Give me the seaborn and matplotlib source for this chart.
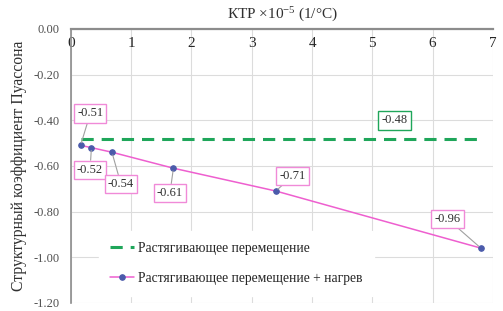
import numpy as np
import pandas as pd
import matplotlib
matplotlib.use("Agg")
import matplotlib.pyplot as plt
import seaborn as sns

# Data
ktr = [0.16, 0.34, 0.68, 1.70, 3.40, 6.80]
heat_vals = [-0.51, -0.52, -0.54, -0.61, -0.71, -0.96]
base_x = [0.16, 6.80]
base_vals = [-0.48, -0.48]
label_base = "Растягивающее перемещение"
label_heat = "Растягивающее перемещение + нагрев"
xticks = [0, 1, 2, 3, 4, 5, 6, 7]
yticks = [0.0, -0.2, -0.4, -0.6, -0.8, -1.0, -1.2]

sns.set_theme(style="white")
plt.rcParams['font.family'] = ['Liberation Serif', 'DejaVu Serif']
plt.rcParams['mathtext.fontset'] = 'custom'
plt.rcParams['mathtext.rm'] = 'Liberation Serif'
plt.rcParams['mathtext.it'] = 'Liberation Serif:italic'

df_heat = pd.DataFrame({"x": ktr, "y": heat_vals})
df_base = pd.DataFrame({"x": base_x, "y": base_vals})

fig = plt.figure(figsize=(5.03, 3.11), dpi=100)
ax = fig.add_axes([0.141, 0.026, 0.839, 0.881])

pink = '#ee5fcf'
green = '#1fa65a'
sns.lineplot(data=df_base, x="x", y="y", ax=ax, color=green, lw=2.2,
             linestyle=(0, (4, 2.6)), label=label_base)
sns.lineplot(data=df_heat, x="x", y="y", ax=ax, color=pink, lw=1.1,
             marker='o', markersize=4, markerfacecolor='#4b5bab',
             markeredgecolor='#4b5bab', label=label_heat)

ax.set_xlim(0, 7)
ax.set_ylim(-1.2, 0)
ax.set_xticks(xticks)
ax.set_yticks(yticks)
ax.set_xticklabels([str(t) for t in xticks], fontsize=9, color='#505050')
ax.set_yticklabels([f"{t:.2f}" for t in yticks], fontsize=9, color='#505050')
ax.grid(True, color='#dcdcdc', lw=0.8)
for s in ['top', 'right']:
    ax.spines[s].set_visible(False)
ax.spines['bottom'].set_position(('data', 0))
ax.spines['bottom'].set_color('#8c8c8c')
ax.spines['bottom'].set_linewidth(1.6)
ax.spines['left'].set_color('#8c8c8c')
ax.spines['left'].set_linewidth(1.2)
ax.tick_params(axis='x', length=0, pad=6)
ax.tick_params(axis='y', length=0, pad=8)
ax.set_xlabel("")
ax.set_ylabel("Структурный коэффициент Пуассона", fontsize=11.3, color='#303030', labelpad=5)
fig.text(0.561, 0.952, "КТР ×10$^{-5}$ (1/°C)", ha='center', va='center',
         fontsize=11, color='#303030')

# Annotations
offsets = [(7, 23), (-1, -16), (6.5, -23), (-2.5, -18), (12, 11), (-24, 21)]
for xv, yv, off in zip(ktr, heat_vals, offsets):
    ax.annotate(f"{yv:.2f}", xy=(xv, yv), xytext=off, textcoords='offset points',
                ha='center', va='center', fontsize=9, color='#303030',
                bbox=dict(boxstyle='square,pad=0.25', fc='white', ec='#f08ad8', lw=1),
                arrowprops=dict(arrowstyle='-', color='#a0a0a0', lw=0.8, shrinkA=0, shrinkB=2))
ax.annotate(f"{base_vals[0]:.2f}", xy=(5.37, base_vals[0]), xytext=(0, 13),
            textcoords='offset points', ha='center', va='center', fontsize=9,
            color='#303030',
            bbox=dict(boxstyle='square,pad=0.25', fc='white', ec=green, lw=1))

leg = ax.legend(loc='lower left', bbox_to_anchor=(0.05, 0.0), frameon=True,
                fontsize=9.8, handlelength=1.8, labelspacing=1.25,
                borderpad=0.8, handletextpad=0.3)
leg.get_frame().set_facecolor('white')
leg.get_frame().set_edgecolor('white')
leg.get_frame().set_alpha(1)

fig.savefig("out.png", dpi=100)
